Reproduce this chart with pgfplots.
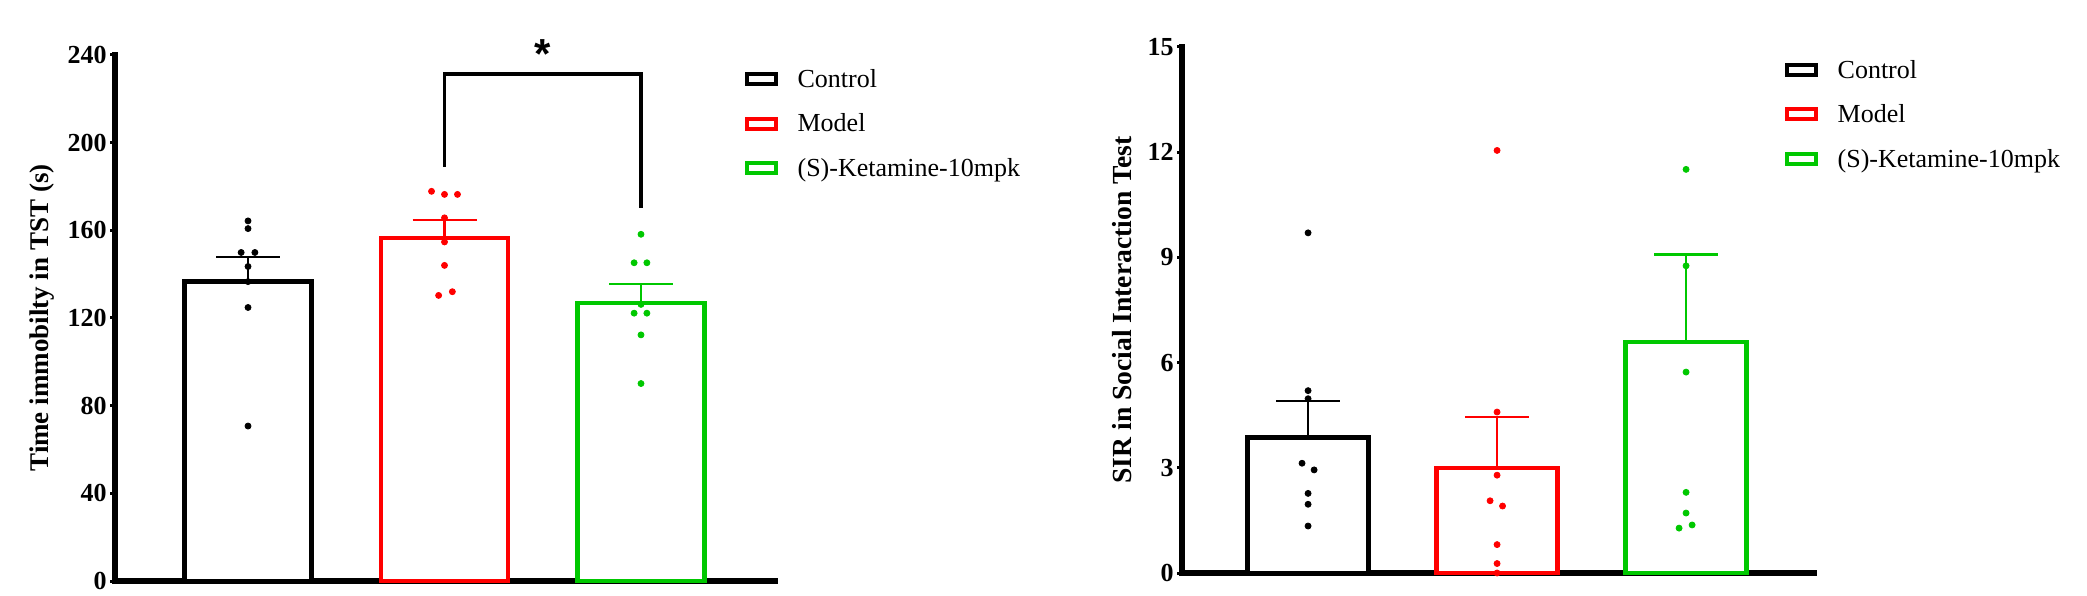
\documentclass[border=0pt]{standalone}
\usepackage{fontspec}
\setmainfont{Liberation Serif}
\newfontfamily\arialfont{Liberation Sans}
\usepackage{pgfplots}
\pgfplotsset{compat=1.18}

\definecolor{grn}{RGB}{0,200,0}
\definecolor{rd}{RGB}{255,0,0}

\pgfplotsset{
  panel/.style={
    scale only axis,
    clip=false,
    axis x line*=bottom,
    axis y line*=left,
    axis line style={line width=#1, line cap=rect},
    xtick=\empty,
    ymin=0,
    tick align=outside,
    major tick length=2.5pt,
    major tick style={line width=1.5pt, black},
    /pgf/number format/assume math mode=true,
    tick label style={font=\fontsize{13}{13}\selectfont\bfseries},
    yticklabel style={inner sep=1.5pt},
    legend cell align=left,
    legend style={
      draw=none, fill=none, inner sep=0pt, outer sep=0pt,
      anchor=north west,
      font=\fontsize{13}{15}\selectfont,
      row sep=9.75pt,
      nodes={inner sep=0pt, text height=9.5pt, text depth=3pt},
    },
  },
  grp/.style={
    ybar, bar shift=0pt, bar width=#1, fill=white, line width=2.3pt,
    legend image code/.code={
      \draw[line width=2pt] (1pt,-1.7pt) rectangle (15.5pt,3.3pt);
      \path (0pt,0pt) (25pt,0pt);
    },
  },
  sem/.style={
    draw=none, mark=none, forget plot,
    error bars/.cd, y dir=plus, y explicit,
    error bar style={line width=1.1pt, draw=#1},
    error mark options={rotate=90, mark size=16pt, line width=1.1pt, draw=#1},
  },
  dots/.style={only marks, mark=*, mark size=1.5pt, color=#1, forget plot},
}

\begin{document}
\begin{tikzpicture}
\useasboundingbox (0,0) rectangle (1043.5pt,297.5pt);

% ---- TST ----
\begin{axis}[
  panel=3pt,
  at={(57.5pt,7pt)}, anchor=south west,
  width=330pt, height=263pt,
  xmin=0.323, xmax=3.682,
  ymax=240, ytick={0,40,...,240},
  ylabel={Time immobilty in TST (s)},
  every axis y label/.style={at={(axis description cs:-0.11,0.5)}, rotate=90, anchor=center,
    font=\fontsize{13.5}{14}\selectfont\bfseries},
  legend style={at={(axis description cs:0.9515,0.975)}},
]
\addplot[grp=0.646, draw=black] coordinates {(1,136.6)};
\addplot[grp=0.646, draw=rd] coordinates {(2,156.5)};
\addplot[grp=0.646, draw=grn] coordinates {(3,126.9)};
\legend{Control, Model, (S)-Ketamine-10mpk}

\addplot[sem=black] coordinates {(1,136.6) +- (0,11.4)};
\addplot[sem=rd] coordinates {(2,156.5) +- (0,8.1)};
\addplot[sem=grn] coordinates {(3,126.9) +- (0,8.6)};

\addplot[dots=black] table {
x y
1 164.3
1 160.8
0.965 149.9
1.035 149.9
1 143.5
1 136.6
1 124.8
1 70.7
};
\addplot[dots=rd] table {
x y
1.934 177.8
2 176.4
2.066 176.4
2 165.7
2 154.7
2 144.0
2.04 132.0
1.97 130.3
};
\addplot[dots=grn] table {
x y
3 158.2
2.965 145.2
3.03 145.2
3 126.2
2.965 122.2
3.03 122.2
3 112.3
3 90.1
};

\draw[line width=1.6pt] (axis cs:2,188.9) |- (axis cs:3,231.3) -- (axis cs:3,170.3);
\node[font=\fontsize{21}{21}\arialfont\bfseries, anchor=base] at (axis cs:2.5,234) {*};
\end{axis}

% ---- SIR ----
\begin{axis}[
  panel=2.6pt,
  at={(591pt,11pt)}, anchor=south west,
  width=316pt, height=263pt,
  xmin=0.333, xmax=3.677,
  ymax=15, ytick={0,3,...,15},
  ylabel={SIR in Social Interaction Test},
  every axis y label/.style={at={(axis description cs:-0.095,0.5)}, rotate=90, anchor=center,
    font=\fontsize{13.8}{14}\selectfont\bfseries},
  legend style={at={(axis description cs:0.951,0.977)}},
]
\addplot[grp=0.64, draw=black] coordinates {(1,3.87)};
\addplot[grp=0.64, draw=rd] coordinates {(2,3.00)};
\addplot[grp=0.64, draw=grn] coordinates {(3,6.59)};
\legend{Control, Model, (S)-Ketamine-10mpk}

\addplot[sem=black] coordinates {(1,3.87) +- (0,1.03)};
\addplot[sem=rd] coordinates {(2,3.00) +- (0,1.44)};
\addplot[sem=grn] coordinates {(3,6.59) +- (0,2.49)};

\addplot[dots=black] table {
x y
1 9.70
1 5.20
1 4.97
0.968 3.13
1.032 2.94
1 2.27
1 1.96
1 1.34
};
\addplot[dots=rd] table {
x y
2 12.05
2 4.59
2 2.79
1.963 2.06
2.029 1.91
2 0.81
2 0.27
2 0.0
};
\addplot[dots=grn] table {
x y
3 11.51
3 8.76
3 5.73
3 2.30
3 1.71
3.032 1.37
2.963 1.28
};
\end{axis}
\end{tikzpicture}
\end{document}
